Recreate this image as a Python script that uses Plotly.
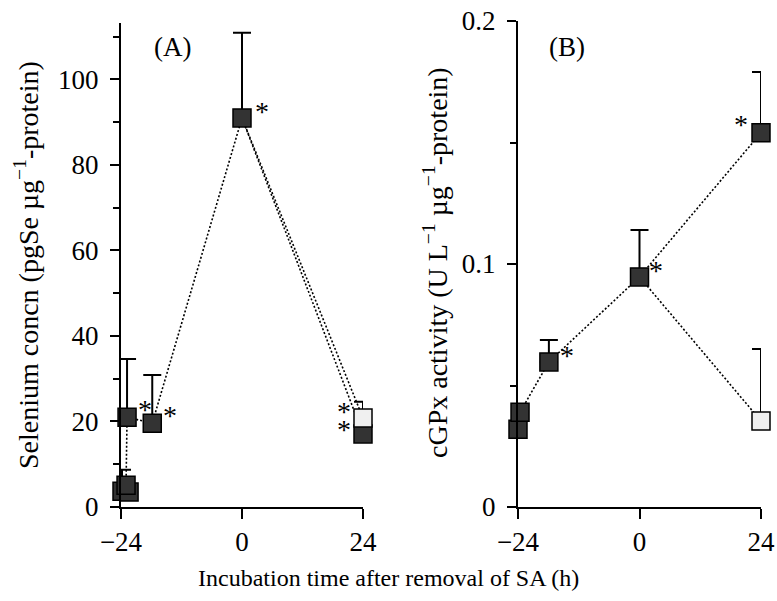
import plotly.graph_objects as go

# ---------------- data ----------------
# Panel A: Selenium concentration
a_dark_x = [-23.8, -22.4, -23.0, -22.8, -17.8, 0, 24]
a_dark_y = [3.7, 3.5, 5.1, 21.0, 19.6, 91.0, 17.1]
a_dark_err = [5.0, 0, 0, 13.6, 11.3, 19.9, 0]
a_light_x = [0, 24]
a_light_y = [91.0, 20.8]
a_light_err = [0, 3.8]
a_star_x = [4.0, -19.2, -14.3, 20.2, 20.2]
a_star_y = [94.3, 24.6, 23.2, 24.3, 20.1]

# Panel B: cGPx activity
b_dark_x = [-24.0, -23.6, -17.9, 0, 24]
b_dark_y = [0.032, 0.039, 0.0597, 0.0947, 0.154]
b_dark_err = [0.0058, 0, 0.009, 0.0193, 0.025]
b_light_x = [0, 24]
b_light_y = [0.0947, 0.0354]
b_light_err = [0, 0.0296]
b_star_x = [20.0, 3.3, -14.3]
b_star_y = [0.1605, 0.1008, 0.0658]

x_ticks = [-24, 0, 24]
x_ticktext = ["\u221224", "0", "24"]
a_yticks = [0, 20, 40, 60, 80, 100]
a_yminor = [10, 30, 50, 70, 90, 110]
b_yticks = [0, 0.1, 0.2]
b_yticktext = ["0", "0.1", "0.2"]
b_yminor = [0.05, 0.15]

FONT = "Liberation Serif"
W, H = 777, 601
DARK = "#333333"
LIGHT = "#f0f0f0"

fig = go.Figure()

line_style = dict(color="black", width=1.6, dash="2px,2px")
marker_base = dict(symbol="square", size=18, line=dict(color="black", width=1.5))
err_style = dict(type="data", symmetric=False, color="black", thickness=2, width=9)

def add_panel(xa, ya, dx, dy, derr, lx, ly, lerr):
    # lines first
    fig.add_trace(go.Scatter(x=dx, y=dy, mode="lines", line=line_style,
                             xaxis=xa, yaxis=ya, showlegend=False, hoverinfo="skip",
                             cliponaxis=False))
    fig.add_trace(go.Scatter(x=lx, y=ly, mode="lines", line=line_style,
                             xaxis=xa, yaxis=ya, showlegend=False, hoverinfo="skip",
                             cliponaxis=False))
    # markers
    fig.add_trace(go.Scatter(x=dx, y=dy, mode="markers",
                             marker=dict(color=DARK, **marker_base),
                             error_y=dict(array=derr, arrayminus=[0] * len(derr), **err_style),
                             xaxis=xa, yaxis=ya, showlegend=False, cliponaxis=False))
    fig.add_trace(go.Scatter(x=lx[1:], y=ly[1:], mode="markers",
                             marker=dict(color=LIGHT, **marker_base),
                             error_y=dict(array=lerr[1:], arrayminus=[0] * len(lerr[1:]), **err_style),
                             xaxis=xa, yaxis=ya, showlegend=False, cliponaxis=False))

add_panel("x", "y", a_dark_x, a_dark_y, a_dark_err, a_light_x, a_light_y, a_light_err)
add_panel("x2", "y2", b_dark_x, b_dark_y, b_dark_err, b_light_x, b_light_y, b_light_err)

tickfont = dict(family=FONT, size=27, color="black")
common_x = dict(range=[-24, 24], tickvals=x_ticks, ticktext=x_ticktext, ticks="outside",
                ticklen=10, tickwidth=2, tickcolor="black", showline=True, linewidth=2,
                linecolor="black", showgrid=False, zeroline=False, tickfont=tickfont,
                automargin=False, fixedrange=True)
common_y = dict(ticks="outside", ticklen=9, tickwidth=2, tickcolor="black",
                showline=True, linewidth=2, linecolor="black", showgrid=False, zeroline=False,
                tickfont=tickfont, automargin=False, fixedrange=True, ticklabelstandoff=6)

fig.update_layout(
    width=W, height=H,
    margin=dict(l=0, r=0, t=0, b=0),
    paper_bgcolor="white", plot_bgcolor="white",
    xaxis=dict(domain=[121 / W, 363 / W], anchor="y", **common_x),
    xaxis2=dict(domain=[518 / W, 761 / W], anchor="y2", **common_x),
    yaxis=dict(domain=[1 - 507 / H, 1 - 23 / H], anchor="x", range=[0, 113.2],
               tickvals=a_yticks,
               minor=dict(tickvals=a_yminor, ticks="outside", ticklen=6, tickwidth=2, tickcolor="black"),
               **common_y),
    yaxis2=dict(domain=[1 - 507 / H, 1 - 21 / H], anchor="x2", range=[0, 0.2],
                tickvals=b_yticks, ticktext=b_yticktext,
                minor=dict(tickvals=b_yminor, ticks="outside", ticklen=6, tickwidth=2, tickcolor="black"),
                **common_y),
    showlegend=False,
)

star_font = dict(family=FONT, size=28, color="black")
annots = []
for sx, sy in zip(a_star_x, a_star_y):
    annots.append(dict(x=sx, y=sy, xref="x", yref="y", text="*", showarrow=False,
                       font=star_font, yshift=-8))
for sx, sy in zip(b_star_x, b_star_y):
    annots.append(dict(x=sx, y=sy, xref="x2", yref="y2", text="*", showarrow=False,
                       font=star_font, yshift=-8))

label_font = dict(family=FONT, size=27, color="black")
ytitle_font = dict(family=FONT, size=28, color="black")
xtitle_font = dict(family=FONT, size=24, color="black")
annots += [
    dict(x=172 / W, y=1 - 47 / H, xref="paper", yref="paper", text="(A)", showarrow=False,
         font=label_font, xanchor="center", yanchor="middle"),
    dict(x=567 / W, y=1 - 47 / H, xref="paper", yref="paper", text="(B)", showarrow=False,
         font=label_font, xanchor="center", yanchor="middle"),
    dict(x=26 / W, y=1 - 265 / H, xref="paper", yref="paper",
         text="Selenium concn (pgSe \u00b5g<sup>\u22121</sup>-protein)", textangle=-90,
         showarrow=False, font=ytitle_font, xanchor="center", yanchor="middle"),
    dict(x=435 / W, y=1 - 263 / H, xref="paper", yref="paper",
         text="cGPx activity (U L<sup>\u22121</sup> \u00b5g<sup>\u22121</sup>-protein)", textangle=-90,
         showarrow=False, font=ytitle_font, xanchor="center", yanchor="middle"),
    dict(x=388 / W, y=1 - 578 / H, xref="paper", yref="paper",
         text="Incubation time after removal of SA (h)",
         showarrow=False, font=xtitle_font, xanchor="center", yanchor="middle"),
]
fig.update_layout(annotations=annots)

fig.write_html("out.html")
